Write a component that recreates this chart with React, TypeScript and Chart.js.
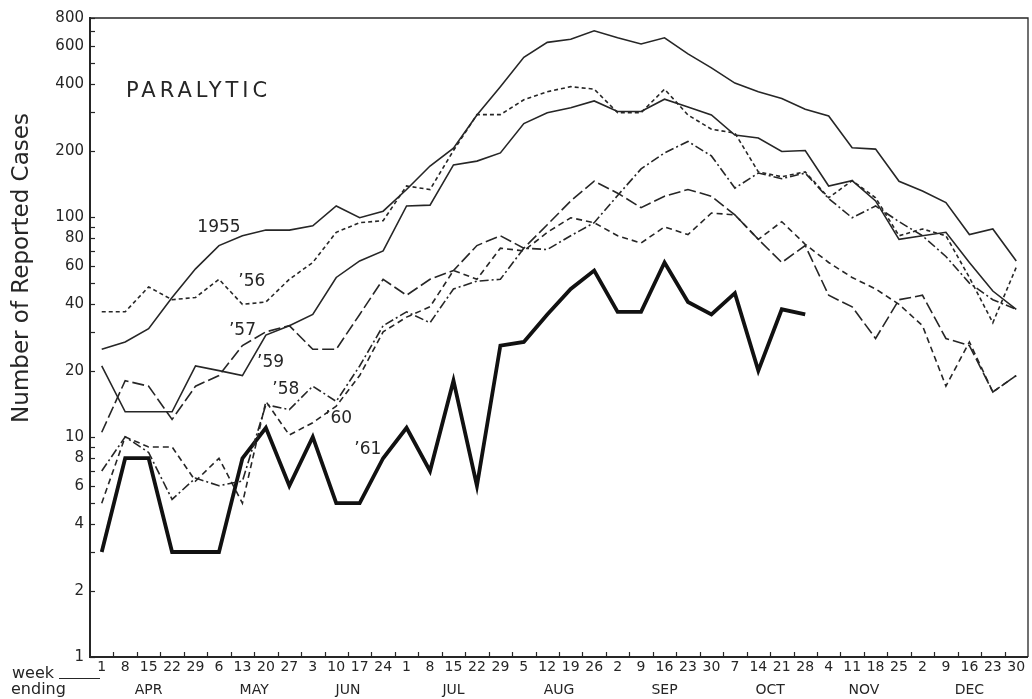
import React, { useEffect, useRef } from 'react';
import { Chart, registerables } from 'chart.js';

Chart.register(...registerables);

// ---- data ----
const weekLabels = ['1','8','15','22','29','6','13','20','27','3','10','17','24','1','8','15','22','29','5','12','19','26','2','9','16','23','30','7','14','21','28','4','11','18','25','2','9','16','23','30'];
const monthNames = ['APR','MAY','JUN','JUL','AUG','SEP','OCT','NOV','DEC'];
const yTickValues = [1,2,3,4,5,6,7,8,9,10,20,30,40,50,60,70,80,90,100,200,300,400,500,600,700,800];
const yTickLabels = [1,2,4,6,8,10,20,40,60,80,100,200,400,600,800];

const cases1955 = [25,27,31,43,58,74,82,87,87,91,112,99,106,133,170,205,290,390,530,620,640,700,650,610,650,550,475,405,370,345,308,287,206,203,145,131,116,83,88,63];
const cases1956 = [37,37,48,42,43,52,40,41,52,62,85,94,96,138,133,200,291,291,340,370,390,380,297,297,380,290,250,240,160,152,160,122,146,122,82,88,82,53,33,59];
const cases1957 = [10.5,18,17,12,17,19,26,30,32,25,25,36,52,44,52,57,74,82,72,92,118,145,128,110,124,133,124,102,79,62,74,44,39,28,42,44,28,26,16,19];
const cases1958 = [7,10,8.5,5.2,6.5,6,6.3,14,13.3,17,14.5,21,32,37,33,47,51,52,72,71,82,94,125,165,195,220,189,135,158,149,158,121,99,112,95,82,66,50,42,38];
const cases1959 = [21,13,13,13,21,20,19,29,32,36,53,63,70,112,113,172,179,195,265,297,313,336,301,301,342,315,290,235,228,198,200,138,146,118,79,82,85,62,46,38];
const cases1960 = [5,10,9,9,6.3,8,5,14.5,10.2,11.6,13.8,19,30,35,39,57,52,72,70,85,99,94,82,76,90,83,104,102,79,95,75,62,53,47,40,32,17,27,16,19];
const cases1961 = [3,8,8,3,3,3,8,11,6,10,5,5,8,11,7,18,6,26,27,36,47,57,37,37,62,41,36,45,20,38,36];

// series name annotations (anchored in data space: week index, cases)
const seriesNotes = [
  { text: '1955', x: 5.0, y: 89 },
  { text: '\u201956', x: 6.4, y: 51 },
  { text: '\u201957', x: 6.0, y: 30.5 },
  { text: '\u201959', x: 7.2, y: 21.8 },
  { text: '\u201958', x: 7.85, y: 16.4 },
  { text: '\u201960', x: 10.1, y: 12.1 },
  { text: '\u201961', x: 11.35, y: 8.8 },
];

const INK = '#262626';
const FONT = '"DejaVu Sans", sans-serif';

const toXY = (arr: number[]) => arr.map((v, i) => ({ x: i, y: v }));

const decorPlugin = {
  id: 'decor',
  afterDatasetsDraw(chart: any) {
    const { ctx, chartArea: a, scales } = chart;
    const xs = scales.x;
    const ys = scales.y;
    ctx.save();
    ctx.strokeStyle = INK;
    ctx.fillStyle = INK;

    // frame
    ctx.lineWidth = 1.3;
    ctx.beginPath();
    ctx.moveTo(a.left, a.top);
    ctx.lineTo(a.right, a.top);
    ctx.lineTo(a.right, a.bottom);
    ctx.stroke();
    ctx.lineWidth = 2;
    ctx.beginPath();
    ctx.moveTo(a.left, a.top - 1);
    ctx.lineTo(a.left, a.bottom);
    ctx.lineTo(a.right, a.bottom);
    ctx.stroke();

    // y ticks (inside) and labels
    ctx.lineWidth = 1.2;
    ctx.font = `15px ${FONT}`;
    ctx.textAlign = 'right';
    ctx.textBaseline = 'middle';
    yTickValues.forEach((v) => {
      const py = Math.round(ys.getPixelForValue(v)) + 0.5;
      ctx.beginPath();
      ctx.moveTo(a.left, py);
      ctx.lineTo(a.left + 5, py);
      ctx.stroke();
      if (yTickLabels.includes(v)) {
        ctx.fillText(String(v), a.left - 6, py);
      }
    });

    // x ticks (inside, between weeks) and labels
    ctx.font = `14px ${FONT}`;
    ctx.textAlign = 'center';
    ctx.textBaseline = 'alphabetic';
    for (let i = 0; i < weekLabels.length - 1; i++) {
      const px = Math.round(xs.getPixelForValue(i + 0.5)) + 0.5;
      ctx.beginPath();
      ctx.moveTo(px, a.bottom);
      ctx.lineTo(px, a.bottom - 5);
      ctx.stroke();
    }
    weekLabels.forEach((lab, i) => {
      ctx.fillText(lab, xs.getPixelForValue(i), a.bottom + 14);
    });

    // month labels centred on their weeks
    ctx.font = `14px ${FONT}`;
    let m = 0;
    let start = 0;
    for (let i = 1; i <= weekLabels.length; i++) {
      if (i === weekLabels.length || Number(weekLabels[i]) < Number(weekLabels[i - 1])) {
        const c = (start + i - 1) / 2;
        ctx.fillText(monthNames[m], xs.getPixelForValue(c), a.bottom + 37);
        m++;
        start = i;
      }
    }

    // "week ending"
    ctx.font = `16px ${FONT}`;
    ctx.textAlign = 'left';
    ctx.fillText('week', 12, a.bottom + 21);
    ctx.fillText('ending', 11, a.bottom + 37);
    ctx.lineWidth = 1.2;
    ctx.beginPath();
    ctx.moveTo(59, a.bottom + 21.5);
    ctx.lineTo(100, a.bottom + 21.5);
    ctx.stroke();

    // y title
    ctx.save();
    ctx.font = `23px ${FONT}`;
    ctx.textAlign = 'center';
    ctx.textBaseline = 'alphabetic';
    ctx.translate(28, 268);
    ctx.rotate(-Math.PI / 2);
    ctx.fillText('Number of Reported Cases', 0, 0);
    ctx.restore();

    // PARALYTIC
    ctx.font = `21px ${FONT}`;
    ctx.textAlign = 'left';
    ctx.textBaseline = 'alphabetic';
    (ctx as any).letterSpacing = '4px';
    ctx.fillText('PARALYTIC', 126, 97);
    (ctx as any).letterSpacing = '0px';

    // series notes
    ctx.font = `17px ${FONT}`;
    ctx.textAlign = 'center';
    ctx.textBaseline = 'middle';
    seriesNotes.forEach((n) => {
      ctx.fillText(n.text, xs.getPixelForValue(n.x), ys.getPixelForValue(n.y));
    });

    ctx.restore();
  },
};

export default function App() {
  const ref = useRef<HTMLCanvasElement | null>(null);

  useEffect(() => {
    if (!ref.current) return;
    const base = {
      pointRadius: 0,
      fill: false,
      tension: 0,
      borderColor: INK,
      borderWidth: 1.6,
      borderCapStyle: 'butt' as const,
      borderJoinStyle: 'miter' as const,
    };
    const chart = new Chart(ref.current, {
      type: 'line',
      data: {
        datasets: [
          { ...base, label: '1955', data: toXY(cases1955) },
          { ...base, label: '1956', data: toXY(cases1956), borderDash: [4, 3] },
          { ...base, label: '1957', data: toXY(cases1957), borderDash: [12, 4] },
          { ...base, label: '1958', data: toXY(cases1958), borderDash: [9, 3, 2, 3] },
          { ...base, label: '1959', data: toXY(cases1959) },
          { ...base, label: '1960', data: toXY(cases1960), borderDash: [6, 4] },
          { ...base, label: '1961', data: toXY(cases1961), borderWidth: 3.8, borderColor: '#111' },
        ],
      },
      options: {
        responsive: false,
        animation: false,
        devicePixelRatio: 1,
        events: [],
        layout: { padding: { left: 90, top: 18, right: 4, bottom: 42 } },
        plugins: { legend: { display: false }, tooltip: { enabled: false } },
        scales: {
          x: { type: 'linear', display: false, min: -0.5, max: 39.5 },
          y: { type: 'logarithmic', display: false, min: 1, max: 800 },
        },
      },
      plugins: [decorPlugin],
    });
    return () => chart.destroy();
  }, []);

  return (
    <div style={{ position: 'fixed', left: 0, top: 0, width: 1032, height: 699, background: '#fff' }}>
      <canvas ref={ref} width={1032} height={699} style={{ display: 'block' }} />
    </div>
  );
}
